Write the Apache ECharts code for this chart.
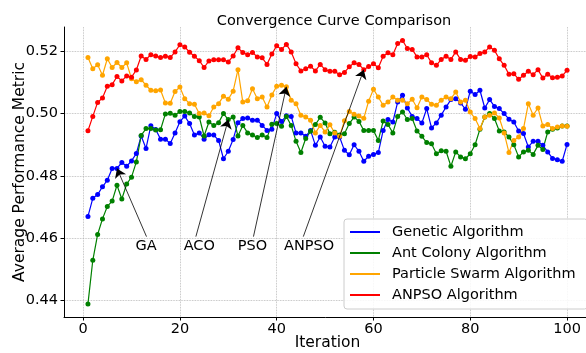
<!DOCTYPE html>
<html>
<head>
<meta charset="utf-8">
<script src="https://cdn.jsdelivr.net/npm/echarts@6/dist/echarts.min.js"></script>
<style>
html,body{margin:0;padding:0;background:#fff;}
#main{width:586px;height:353px;}
</style>
</head>
<body>
<div id="main"></div>
<script>
var iterations = [];
for (var i = 1; i <= 100; i++) iterations.push(i);

var gaData = [
0.4670,0.4728,0.4740,0.4765,0.4786,0.4824,0.4824,0.4843,0.4831,0.4848,
0.4872,0.4928,0.4888,0.4961,0.4949,0.4918,0.4918,0.4904,0.4938,0.4974,
0.4992,0.4968,0.4931,0.4938,0.4918,0.4932,0.4931,0.4914,0.4855,0.4879,
0.4917,0.4971,0.4984,0.4986,0.4979,0.4979,0.4962,0.4946,0.4950,0.5000,
0.4975,0.4993,0.4991,0.4938,0.4938,0.4927,0.4946,0.4898,0.4925,0.4895,
0.4893,0.4925,0.4925,0.4882,0.4868,0.4900,0.4879,0.4847,0.4863,0.4869,
0.4875,0.4946,0.4981,0.4973,0.5037,0.5059,0.5018,0.4991,0.4984,0.4970,
0.5016,0.4954,0.4970,0.4995,0.5021,0.5045,0.5048,0.5034,0.5014,0.5072,
0.5061,0.5075,0.5018,0.5045,0.5023,0.5016,0.5000,0.4982,0.4973,0.4944,
0.4936,0.4893,0.4911,0.4911,0.4898,0.4877,0.4856,0.4852,0.4847,0.4901
];
var acoData = [
0.4389,0.4529,0.4612,0.4662,0.4702,0.4719,0.4770,0.4726,0.4774,0.4796,
0.4845,0.4930,0.4952,0.4952,0.4947,0.4948,0.4999,0.5001,0.4995,0.5007,
0.5007,0.5002,0.4991,0.4989,0.4928,0.4973,0.4962,0.4971,0.5000,0.4981,
0.4989,0.4928,0.4962,0.4938,0.4931,0.4923,0.4931,0.4923,0.4966,0.4968,
0.4959,0.4991,0.4962,0.4911,0.4875,0.4920,0.4943,0.4965,0.4988,0.4970,
0.4935,0.4940,0.4931,0.4935,0.4968,0.4989,0.4975,0.4946,0.4946,0.4946,
0.4914,0.4976,0.4965,0.4938,0.4991,0.5005,0.4981,0.4984,0.4944,0.4927,
0.4907,0.4903,0.4871,0.4881,0.4879,0.4831,0.4877,0.4861,0.4855,0.4871,
0.4900,0.4950,0.4989,0.5000,0.4984,0.4944,0.4941,0.4925,0.4900,0.4861,
0.4877,0.4882,0.4869,0.4898,0.4885,0.4941,0.4950,0.4954,0.4960,0.4960
];
var psoData = [
0.5180,0.5144,0.5157,0.5123,0.5176,0.5148,0.5164,0.5148,0.5163,0.5112,
0.5102,0.5109,0.5091,0.5075,0.5073,0.5076,0.5034,0.5033,0.5071,0.5085,
0.5048,0.5032,0.5030,0.5000,0.5002,0.4993,0.5021,0.5032,0.5056,0.5046,
0.5072,0.5141,0.5037,0.5041,0.5080,0.5048,0.5053,0.5021,0.5060,0.5088,
0.5091,0.5086,0.5043,0.5032,0.4995,0.4989,0.4979,0.4938,0.4962,0.4941,
0.4964,0.4938,0.4927,0.4977,0.5007,0.4998,0.4992,0.4985,0.5040,0.5078,
0.5053,0.5027,0.5037,0.5053,0.5043,0.5043,0.5032,0.5046,0.5019,0.5053,
0.5045,0.5030,0.5027,0.5043,0.5053,0.5048,0.5069,0.5037,0.5043,0.5005,
0.4984,0.4952,0.4989,0.4995,0.5002,0.4986,0.4938,0.4875,0.4914,0.4925,
0.4952,0.5032,0.4995,0.5018,0.4960,0.4965,0.4952,0.4957,0.4960,0.4959
];
var anpsoData = [
0.4945,0.4991,0.5036,0.5050,0.5088,0.5093,0.5119,0.5105,0.5121,0.5117,
0.5140,0.5185,0.5174,0.5189,0.5185,0.5180,0.5184,0.5180,0.5198,0.5221,
0.5214,0.5197,0.5184,0.5170,0.5148,0.5169,0.5173,0.5173,0.5173,0.5166,
0.5185,0.5211,0.5196,0.5189,0.5196,0.5182,0.5179,0.5158,0.5191,0.5218,
0.5206,0.5222,0.5198,0.5160,0.5137,0.5144,0.5152,0.5137,0.5158,0.5141,
0.5136,0.5136,0.5125,0.5132,0.5150,0.5163,0.5158,0.5141,0.5151,0.5160,
0.5147,0.5184,0.5195,0.5189,0.5225,0.5235,0.5209,0.5206,0.5182,0.5182,
0.5189,0.5163,0.5155,0.5174,0.5184,0.5174,0.5198,0.5174,0.5171,0.5183,
0.5182,0.5193,0.5198,0.5214,0.5203,0.5176,0.5155,0.5126,0.5128,0.5110,
0.5123,0.5136,0.5125,0.5141,0.5114,0.5126,0.5115,0.5117,0.5121,0.5139
];

var seriesNames = ['Genetic Algorithm', 'Ant Colony Algorithm', 'Particle Swarm Algorithm', 'ANPSO Algorithm'];
var xTicks = [0, 20, 40, 60, 80, 100];
var yTicks = [0.44, 0.46, 0.48, 0.50, 0.52];

// annotation text, text position, arrow start, target iteration
var annoText = ['GA', 'ACO', 'PSO', 'ANPSO'];
var annoTextX = [13, 24, 35, 46.7];
var annoTextY = [0.4575, 0.4575, 0.4575, 0.4575];
var annoFromX = [13.1, 23.3, 35.2, 45.5];
var annoFromY = [0.4605, 0.4605, 0.4605, 0.4605];
var annoTargetIter = [7, 30, 42, 58];

var allData = [gaData, acoData, psoData, anpsoData];
var colors = ['#0000ff', '#008000', '#ffa500', '#ff0000'];
var FONT = 'DejaVu Sans';

var myChart = echarts.init(document.getElementById('main'));

function pairs(arr){
    var out = [];
    for (var k = 0; k < arr.length; k++) out.push([iterations[k], arr[k]]);
    return out;
}

var series = [];
for (var s = 0; s < 4; s++) {
    series.push({
        name: seriesNames[s],
        type: 'line',
        data: pairs(allData[s]),
        symbol: 'circle',
        symbolSize: 5,
        showSymbol: true,
        color: colors[s],
        lineStyle: { width: 1.2, color: colors[s] },
        itemStyle: { color: colors[s] },
        emphasis: { disabled: true },
        animation: false
    });
}

var annoPoints = [];
var annoLines = [];
for (var a = 0; a < annoText.length; a++) {
    annoPoints.push([annoTextX[a], annoTextY[a], annoText[a]]);
    var it = annoTargetIter[a];
    var target = allData[a][it - 1];
    annoLines.push([
        { coord: [annoFromX[a], annoFromY[a]] },
        { coord: [it, target] }
    ]);
}
series.push({
    type: 'scatter',
    data: annoPoints,
    symbolSize: 0,
    silent: true,
    animation: false,
    z: 5,
    itemStyle: { opacity: 1, color: '#000' },
    label: {
        show: true,
        position: 'inside',
        formatter: function(p){ return p.value[2]; },
        color: '#000',
        opacity: 1,
        textBorderWidth: 0,
        fontSize: 14.5,
        fontFamily: FONT
    },
    markLine: {
        silent: true,
        animation: false,
        symbol: ['none', 'arrow'],
        symbolSize: 9,
        label: { show: false },
        lineStyle: { color: '#000', width: 0.8, type: 'solid', opacity: 1 },
        emphasis: { disabled: true },
        data: annoLines
    }
});

var option = {
    backgroundColor: '#fff',
    animation: false,
    title: {
        text: 'Convergence Curve Comparison',
        left: 329,
        top: 9,
        textAlign: 'center',
        textStyle: { fontFamily: FONT, fontSize: 14.5, fontWeight: 'normal', color: '#000' }
    },
    grid: {
        left: 64,
        right: -5,
        top: 27,
        bottom: 36,
        outerBoundsMode: 'none',
        containLabel: false
    },
    legend: {
        data: seriesNames,
        orient: 'vertical',
        left: 344,
        top: 219,
        icon: 'rect',
        itemWidth: 30,
        itemHeight: 2,
        itemGap: 5,
        padding: [5, 12, 6, 6],
        backgroundColor: 'rgba(255,255,255,0.85)',
        borderColor: '#cccccc',
        borderWidth: 1,
        borderRadius: 3,
        selectedMode: false,
        textStyle: { fontFamily: FONT, fontSize: 14.5, color: '#000', lineHeight: 16, padding: [0, 0, 0, 7] }
    },
    xAxis: {
        type: 'value',
        min: -3.95,
        max: 104.95,
        name: 'Iteration',
        nameLocation: 'middle',
        nameGap: 18,
        nameMoveOverlap: false,
        nameTextStyle: { fontFamily: FONT, fontSize: 15.5, color: '#000' },
        axisLine: { show: true, onZero: false, lineStyle: { color: '#000', width: 1 } },
        axisTick: { show: true, customValues: xTicks, length: 3.5, lineStyle: { color: '#000' } },
        axisLabel: { customValues: xTicks, margin: 5, fontFamily: FONT, fontSize: 14.5, color: '#000' },
        splitLine: { show: true, customValues: xTicks, lineStyle: { color: '#b0b0b0', type: 'dotted', width: 0.8 } }
    },
    yAxis: {
        type: 'value',
        min: 0.4347,
        max: 0.5278,
        name: 'Average Performance Metric',
        nameLocation: 'middle',
        nameGap: 36,
        nameMoveOverlap: false,
        nameTextStyle: { fontFamily: FONT, fontSize: 15.5, color: '#000' },
        axisLine: { show: true, onZero: false, lineStyle: { color: '#000', width: 1 } },
        axisTick: { show: true, customValues: yTicks, length: 3.5, lineStyle: { color: '#000' } },
        axisLabel: {
            customValues: yTicks, margin: 6, fontFamily: FONT, fontSize: 14.5, color: '#000',
            formatter: function(v){ return v.toFixed(2); }
        },
        splitLine: { show: true, customValues: yTicks, lineStyle: { color: '#b0b0b0', type: 'dotted', width: 0.8 } }
    },
    series: series
};

myChart.setOption(option);
</script>
</body>
</html>
